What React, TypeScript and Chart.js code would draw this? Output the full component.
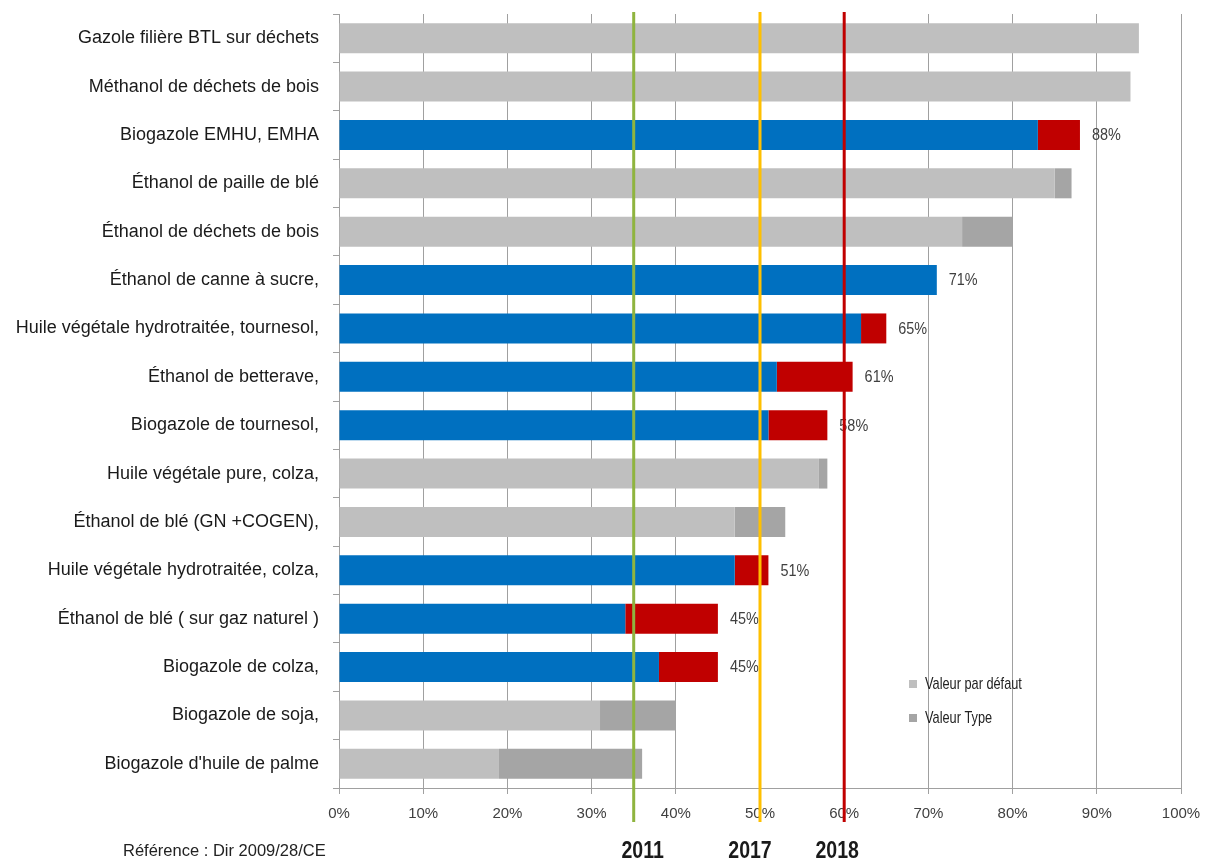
import React, { useEffect, useRef } from "react";
import { Chart, registerables } from "chart.js";

Chart.register(...registerables);

const categories = [
  "Gazole filière BTL sur déchets",
  "Méthanol de déchets de bois",
  "Biogazole EMHU, EMHA",
  "Éthanol de paille de blé",
  "Éthanol de déchets de bois",
  "Éthanol de canne à sucre,",
  "Huile végétale hydrotraitée, tournesol,",
  "Éthanol de betterave,",
  "Biogazole de tournesol,",
  "Huile végétale pure, colza,",
  "Éthanol de blé (GN +COGEN),",
  "Huile végétale hydrotraitée, colza,",
  "Éthanol de blé ( sur gaz naturel )",
  "Biogazole de colza,",
  "Biogazole de soja,",
  "Biogazole d'huile de palme",
];

// Valeur par défaut (%)
const defaultValues = [95, 94, 83, 85, 74, 71, 62, 52, 51, 57, 47, 47, 34, 38, 31, 19];
// Valeur type (%)
const typicalValues = [95, 94, 88, 87, 80, 71, 65, 61, 58, 58, 53, 51, 45, 45, 40, 36];
// Filières mises en évidence (bleu / rouge, avec étiquette)
const highlighted = [false, false, true, false, false, true, true, true, true, false, false, true, true, true, false, false];

const seriesNames = ["Valeur par défaut", "Valeur Type"];
const milestoneYears = ["2011", "2017", "2018"];
const milestoneTargets = [35, 50, 60];
const referenceNote = "Référence : Dir 2009/28/CE";

const SANS = '"Liberation Sans", Arial, sans-serif';

export default function App() {
  const canvasRef = useRef<HTMLCanvasElement | null>(null);

  useEffect(() => {
    const canvas = canvasRef.current;
    if (!canvas) return;

    const lightGray = "#bfbfbf";
    const darkGray = "#a5a5a5";
    const blue = "#0070c0";
    const red = "#c00000";
    const lineColors = ["#8fb43f", "#ffc000", "#c00000"];
    const yearOffsets = [9, -10, -7];

    const typeIncrements = typicalValues.map((t, i) => t - defaultValues[i]);

    const condensedText = (ctx: any, text: string, x: number, y: number, sx: number) => {
      ctx.save();
      ctx.translate(x, y);
      ctx.scale(sx, 1);
      ctx.fillText(text, 0, 0);
      ctx.restore();
    };

    const overlay = {
      id: "overlay",
      afterDatasetsDraw(chart: any) {
        const ctx = chart.ctx;
        const x = chart.scales.x;
        const y = chart.scales.y;
        ctx.save();
        // value labels
        ctx.font = `16px ${SANS}`;
        ctx.fillStyle = "#404040";
        ctx.textAlign = "left";
        ctx.textBaseline = "middle";
        categories.forEach((_, i) => {
          if (!highlighted[i]) return;
          const px = x.getPixelForValue(typicalValues[i]);
          const py = y.getPixelForValue(i);
          condensedText(ctx, `${typicalValues[i]}%`, px + 12, py + 1, 0.9);
        });
        // milestone lines
        milestoneTargets.forEach((v, i) => {
          const px = x.getPixelForValue(v);
          ctx.strokeStyle = lineColors[i];
          ctx.lineWidth = 3;
          ctx.beginPath();
          ctx.moveTo(px, 12);
          ctx.lineTo(px, 822);
          ctx.stroke();
          ctx.font = `bold 23px ${SANS}`;
          ctx.fillStyle = "#1a1a1a";
          ctx.textAlign = "center";
          ctx.textBaseline = "middle";
          condensedText(ctx, milestoneYears[i], px + yearOffsets[i], 852, 0.85);
        });
        // legend
        const legendColors = [lightGray, darkGray];
        ctx.font = `17px ${SANS}`;
        ctx.textAlign = "left";
        ctx.textBaseline = "middle";
        seriesNames.forEach((name, i) => {
          const ly = 684 + i * 34;
          ctx.fillStyle = legendColors[i];
          ctx.fillRect(909, ly - 4, 8, 8);
          ctx.fillStyle = "#222222";
          condensedText(ctx, name, 925, ly, 0.75);
        });
        // reference
        ctx.font = `16.5px ${SANS}`;
        ctx.fillStyle = "#222222";
        ctx.fillText(referenceNote, 123, 851);
        ctx.restore();
      },
    };

    const chart = new Chart(canvas, {
      type: "bar",
      data: {
        labels: categories,
        datasets: [
          {
            label: seriesNames[0],
            data: defaultValues,
            backgroundColor: highlighted.map((h) => (h ? blue : lightGray)),
            borderWidth: 0,
            barPercentage: 0.62,
            categoryPercentage: 1,
          },
          {
            label: seriesNames[1],
            data: typeIncrements,
            backgroundColor: highlighted.map((h) => (h ? red : darkGray)),
            borderWidth: 0,
            barPercentage: 0.62,
            categoryPercentage: 1,
          },
        ],
      },
      options: {
        indexAxis: "y",
        animation: false,
        responsive: true,
        maintainAspectRatio: false,
        layout: { padding: { top: 14, right: 26, left: 0, bottom: 0 } },
        plugins: {
          legend: { display: false },
          tooltip: { enabled: false },
        },
        scales: {
          x: {
            stacked: true,
            min: 0,
            max: 100,
            ticks: {
              stepSize: 10,
              callback: (v: any) => `${v}%`,
              font: { size: 15, family: SANS },
              color: "#404040",
              padding: 11,
              maxRotation: 0,
            },
            grid: {
              color: "#a0a0a0",
              lineWidth: 1,
              tickLength: 6,
              drawTicks: true,
            },
            border: { color: "#a0a0a0", width: 1 },
            afterFit(scale: any) {
              scale.height = 75;
              scale.paddingLeft = 0;
              scale.paddingRight = 0;
            },
          },
          y: {
            stacked: true,
            ticks: {
              font: { size: 18, family: SANS },
              color: "#1a1a1a",
              padding: 14,
              autoSkip: false,
            },
            grid: {
              drawOnChartArea: false,
              drawTicks: true,
              tickLength: 6,
              color: "#a0a0a0",
              offset: true,
            },
            border: { color: "#a0a0a0", width: 1 },
            afterFit(scale: any) {
              scale.width = 339;
              scale.paddingTop = 0;
              scale.paddingBottom = 0;
            },
          },
        },
      },
      plugins: [overlay],
    });

    return () => chart.destroy();
  }, []);

  return (
    <div
      style={{
        position: "fixed",
        left: 0,
        top: 0,
        width: 1207,
        height: 863,
        background: "#ffffff",
      }}
    >
      <canvas ref={canvasRef} />
    </div>
  );
}
